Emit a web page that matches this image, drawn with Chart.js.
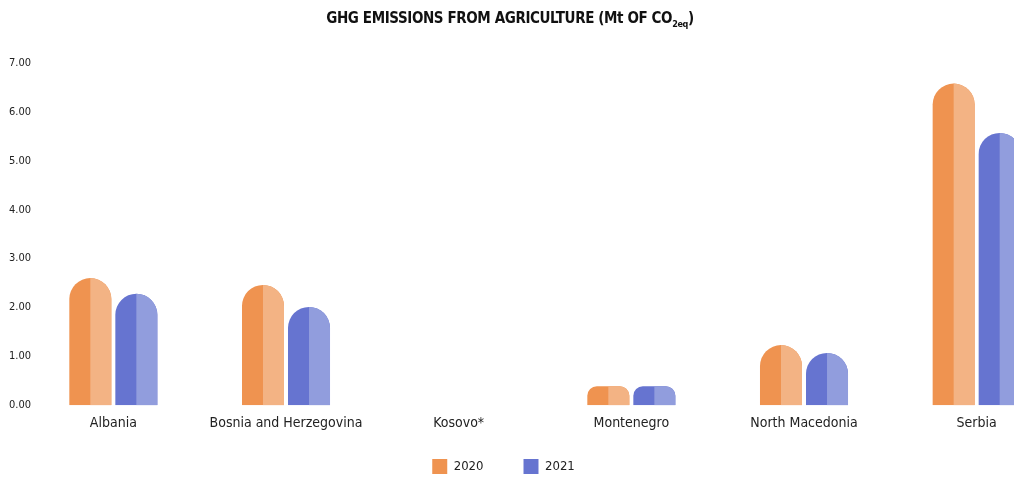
<!DOCTYPE html>
<html>
<head>
<meta charset="utf-8">
<script src="https://cdn.jsdelivr.net/npm/chart.js@4/dist/chart.umd.min.js"></script>
<style>
  body { margin: 0; background: #fff; overflow: hidden; }
  #wrap { position: relative; width: 1014px; height: 477px; overflow: hidden; }
  #title {
    position: absolute; top: 9px; left: 0; width: 1020px; z-index: 2;
    text-align: center; color: #111; letter-spacing: -0.4px;
    font-family: "DejaVu Sans Condensed", "DejaVu Sans", sans-serif;
    font-stretch: condensed; font-weight: bold; font-size: 15px;
  }
  #title sub { font-size: 9px; }
  #box { position: absolute; left: 0; top: 0; width: 1063px; height: 477px; }
</style>
</head>
<body>
<div id="wrap">
  <div id="title">GHG EMISSIONS FROM AGRICULTURE (Mt OF CO<sub>2eq</sub>)</div>
  <div id="box"><canvas id="chart_ghg"></canvas></div>
</div>
<script>
const FONT = '"DejaVu Sans Condensed", "DejaVu Sans", sans-serif';

const countries = ["Albania", "Bosnia and Herzegovina", "Kosovo*", "Montenegro", "North Macedonia", "Serbia"];
const years = ["2020", "2021"];
const values2020 = [2.6, 2.46, null, 0.39, 1.23, 6.58];
const values2021 = [2.28, 2.01, null, 0.39, 1.07, 5.57];
const yTickLabels = ["0.00", "1.00", "2.00", "3.00", "4.00", "5.00", "6.00", "7.00"];

const darkColors = ["rgb(239, 147, 80)", "rgb(102, 116, 208)"];
const lightColors = ["rgb(243, 179, 132)", "rgb(145, 157, 221)"];

// width of the widest y label, so the mirrored labels can end just right of the axis
const measure = document.createElement("canvas").getContext("2d");
measure.font = "11px " + FONT;
const yLabelWidth = Math.max(...yTickLabels.map((t) => measure.measureText(t).width));

// paints the right half of every bar in the lighter tone
const halfTone = {
  id: "halfTone",
  afterDatasetDraw(chart, args) {
    const ctx = chart.ctx;
    const area = chart.chartArea;
    args.meta.data.forEach((bar, i) => {
      if (chart.data.datasets[args.index].data[i] == null) return;
      const o = bar.options;
      ctx.save();
      ctx.beginPath();
      ctx.rect(bar.x, area.top - 50, bar.width, area.bottom - area.top + 50);
      ctx.clip();
      bar.options = Object.create(o, { backgroundColor: { value: lightColors[args.index] } });
      bar.draw(ctx, area);
      bar.options = o;
      ctx.restore();
    });
  }
};

// legend: keep wide item spacing but a short box, and centre it on the visible window
const legendFix = {
  id: "legendFix",
  beforeLayout(chart) {
    const lg = chart.legend;
    if (!lg || lg._patched) return;
    const fit = lg.fit.bind(lg);
    lg.fit = function () { fit(); this.height = 35; };
    lg._patched = true;
  },
  afterLayout(chart) {
    const lg = chart.legend;
    lg.top -= 23;
    lg.left -= 28;
    lg.right -= 28;
  }
};

$ = (s) => document.querySelector(s);

new Chart($("#chart_ghg"), {
  type: "bar",
  data: {
    labels: countries,
    datasets: [
      { label: years[0], data: values2020, backgroundColor: darkColors[0] },
      { label: years[1], data: values2021, backgroundColor: darkColors[1] }
    ]
  },
  options: {
    responsive: true,
    maintainAspectRatio: false,
    animation: false,
    layout: { padding: { top: 63, left: 0, right: 0, bottom: 0 } },
    datasets: {
      bar: {
        categoryPercentage: 0.533,
        barPercentage: 0.913,
        borderRadius: { topLeft: 21, topRight: 21, bottomLeft: 0, bottomRight: 0 },
        borderSkipped: "bottom"
      }
    },
    scales: {
      x: {
        grid: { display: false, drawTicks: false },
        border: { display: false },
        ticks: { color: "#222", font: { family: FONT, size: 14 }, padding: 10, maxRotation: 0, autoSkip: false }
      },
      y: {
        min: 0,
        max: 7,
        grid: { display: false, drawTicks: false },
        border: { display: false },
        afterFit: (s) => { s.width = 27; },
        ticks: {
          stepSize: 1,
          mirror: true,
          crossAlign: "far",
          padding: 4 - yLabelWidth,
          color: "#222",
          font: { family: FONT, size: 11 },
          callback: (v, i) => yTickLabels[i]
        }
      }
    },
    plugins: {
      title: { display: false },
      tooltip: { enabled: false },
      legend: {
        position: "bottom",
        labels: {
          boxWidth: 15,
          boxHeight: 15,
          padding: 40,
          color: "#222",
          font: { family: FONT, size: 13 }
        }
      }
    }
  },
  plugins: [halfTone, legendFix]
});
</script>
</body>
</html>
